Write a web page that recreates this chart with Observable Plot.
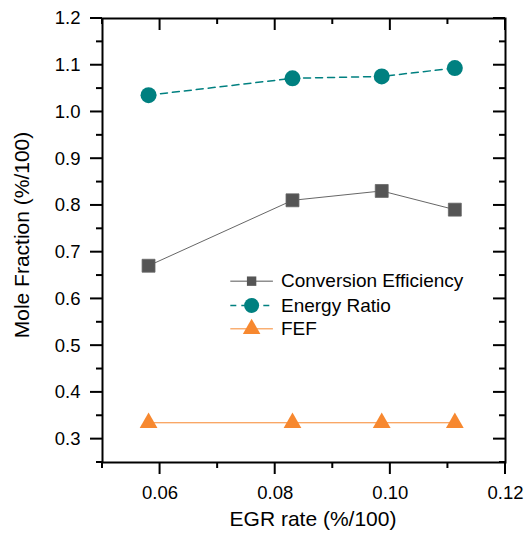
<!DOCTYPE html>
<html>
<head>
<meta charset="utf-8">
<script src="https://cdn.jsdelivr.net/npm/d3@7"></script>
<script src="https://cdn.jsdelivr.net/npm/@observablehq/plot@0.6"></script>
<style>
  html, body { margin: 0; padding: 0; background: #fff; }
  #chart { width: 524px; height: 533px; }
</style>
</head>
<body>
<div id="chart"></div>
<script>
// ---- data ----
const egr = [0.058, 0.083, 0.0985, 0.1112];
const conversionEfficiency = [0.671, 0.811, 0.831, 0.791];
const energyRatio = [1.036, 1.072, 1.076, 1.094];
const fef = [0.335, 0.335, 0.335, 0.335];
const seriesNames = ["Conversion Efficiency", "Energy Ratio", "FEF"];
const xMajorTicks = [0.06, 0.08, 0.10, 0.12];
const xMinorTicks = [0.05, 0.07, 0.09, 0.11];
const yMajorTicks = [0.3, 0.4, 0.5, 0.6, 0.7, 0.8, 0.9, 1.0, 1.1, 1.2];
const yMinorTicks = [0.25, 0.35, 0.45, 0.55, 0.65, 0.75, 0.85, 0.95, 1.05, 1.15];

const colors = { conv: "#555555", energy: "#008080", fef: "#f7882f" };

const rows = (ys) => egr.map((x, i) => ({ x, y: ys[i] }));
const convData = rows(conversionEfficiency);
const energyData = rows(energyRatio);
const fefData = rows(fef);

// legend rows (inside the plot area, in data space)
const legendY = [0.638, 0.586, 0.536];
const lgX1 = 0.0722, lgX2 = 0.0796, lgXM = 0.0759, lgXT = 0.0810;
const lg = (i) => [{ name: seriesNames[i], y: legendY[i] }];

const noText = () => "";

const chart = Plot.plot({
  width: 524,
  height: 533,
  marginLeft: 102,
  marginRight: 19,
  marginTop: 18,
  marginBottom: 71,
  style: { fontFamily: "'Liberation Sans', Arial, sans-serif", fontSize: "18.5px", color: "#000", background: "#fff" },
  x: { domain: [0.05, 0.12] },
  y: { domain: [0.25, 1.2] },
  marks: [
    // tick labels (tick lines drawn below with the same scales)
    Plot.axisX({ ticks: xMajorTicks, tickSize: 0, tickPadding: 23, tickFormat: d3.format(".2f"), label: null }),
    Plot.axisY({ ticks: yMajorTicks, tickSize: 0, tickPadding: 22, tickFormat: d3.format(".1f"), label: null }),
    Plot.frame({ stroke: "#000", strokeWidth: 2 }),

    // series lines
    Plot.line(convData, { x: "x", y: "y", stroke: colors.conv, strokeWidth: 0.9 }),
    Plot.line(energyData, { x: "x", y: "y", stroke: colors.energy, strokeWidth: 1.5, strokeDasharray: "7,5" }),
    Plot.line(fefData, { x: "x", y: "y", stroke: colors.fef, strokeWidth: 1 }),

    // series markers
    Plot.dot(convData, { x: "x", y: "y", symbol: "square", r: 7.3, fill: colors.conv, stroke: "#666", strokeWidth: 0.8 }),
    Plot.dot(energyData, { x: "x", y: "y", symbol: "circle", r: 8, fill: colors.energy, stroke: "none" }),
    Plot.dot(fefData, { x: "x", y: "y", symbol: "triangle", r: 6.6, fill: colors.fef, stroke: "none" }),

    // legend
    Plot.link(lg(0), { x1: () => lgX1, x2: () => lgX2, y1: "y", y2: "y", stroke: colors.conv, strokeWidth: 1 }),
    Plot.link(lg(1), { x1: () => lgX1, x2: () => lgX2, y1: "y", y2: "y", stroke: colors.energy, strokeWidth: 1.5, strokeDasharray: "6,5" }),
    Plot.link(lg(2), { x1: () => lgX1, x2: () => lgX2, y1: "y", y2: "y", stroke: colors.fef, strokeWidth: 1 }),
    Plot.dot(lg(0), { x: () => lgXM, y: "y", symbol: "square", r: 5.3, fill: colors.conv, stroke: "none" }),
    Plot.dot(lg(1), { x: () => lgXM, y: "y", symbol: "circle", r: 7.5, fill: colors.energy, stroke: "none" }),
    Plot.dot(lg(2), { x: () => lgXM, y: "y", symbol: "triangle", r: 6.5, fill: colors.fef, stroke: "none" }),
    Plot.text(seriesNames.map((name, i) => ({ name, y: legendY[i] })), { x: () => lgXT, y: "y", text: "name", textAnchor: "start", fontSize: 19, fill: "#000" })
  ]
});

document.getElementById("chart").appendChild(chart);

// tick lines using the chart's own scales
const sx = chart.scale("x"), sy = chart.scale("y");
const L = 102, R = 505, T = 18, B = 462;
const svg = d3.select(chart);
const g = svg.append("g").attr("stroke", "#000").attr("stroke-width", 2).attr("fill", "none");
const tick = (x1, y1, x2, y2) => g.append("line").attr("x1", x1).attr("y1", y1).attr("x2", x2).attr("y2", y2);
xMajorTicks.forEach(v => { const x = sx.apply(v); tick(x, B, x, B + 12); tick(x, T, x, T + 12); });
xMinorTicks.forEach(v => { const x = sx.apply(v); tick(x, B, x, B + 6); tick(x, T, x, T + 6); });
yMajorTicks.forEach(v => { const y = sy.apply(v); tick(L - 12, y, L, y); tick(R - 12, y, R, y); });
yMinorTicks.forEach(v => { const y = sy.apply(v); tick(L - 6, y, L, y); tick(R - 6, y, R, y); });

// axis titles
svg.append("text")
  .attr("x", 313).attr("y", 526)
  .attr("text-anchor", "middle")
  .attr("fill", "#000")
  .style("font-size", "21px")
  .text("EGR rate (%/100)");
svg.append("text")
  .attr("transform", "translate(29,235) rotate(-90)")
  .attr("text-anchor", "middle")
  .attr("fill", "#000")
  .style("font-size", "21px")
  .text("Mole Fraction (%/100)");
</script>
</body>
</html>
